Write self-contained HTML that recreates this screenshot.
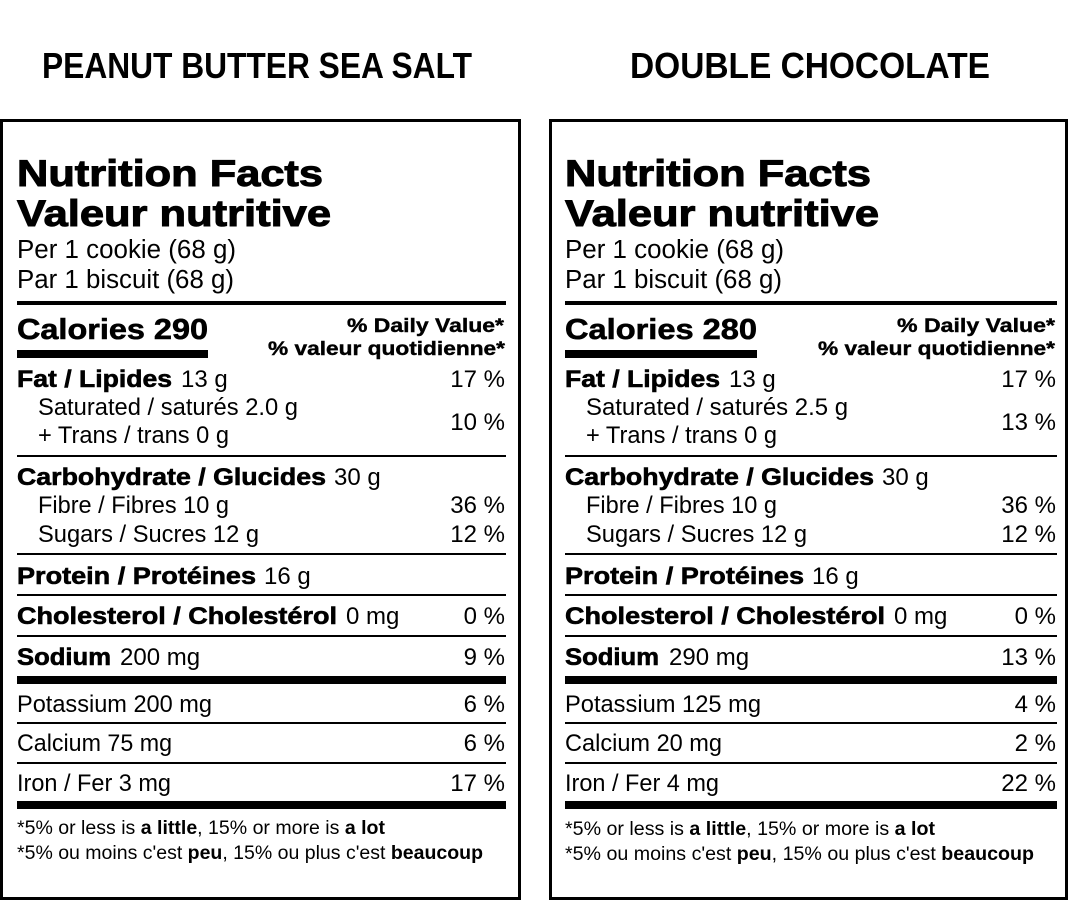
<!DOCTYPE html>
<html><head><meta charset="utf-8"><style>
html,body{margin:0;padding:0;background:#fff;}
svg{display:block;}
text{font-family:"Liberation Sans",Arial,sans-serif;fill:#000;}
.t{font-weight:bold;font-size:36px;}
.h{font-weight:bold;font-size:37px;stroke:#000;stroke-width:1px;}
.b{font-weight:bold;font-size:24px;stroke:#000;stroke-width:0.6px;}
.r{font-size:24px;}
.r25{font-size:25.5px;}
.p{font-size:24px;text-anchor:end;}
.dv{font-weight:bold;font-size:19px;stroke:#000;stroke-width:0.4px;}
.f{font-size:19px;}
.f tspan.bb{font-weight:bold;}
</style></head><body>
<svg width="1070" height="900" viewBox="0 0 1070 900" xmlns="http://www.w3.org/2000/svg">
<rect x="0" y="0" width="1070" height="900" fill="#fff"/>
<text class="t" x="42" y="78" textLength="430" lengthAdjust="spacingAndGlyphs">PEANUT BUTTER SEA SALT</text>
<text class="t" x="630" y="78" textLength="360" lengthAdjust="spacingAndGlyphs">DOUBLE CHOCOLATE</text>

<rect x="1.5" y="120.5" width="518" height="778" fill="none" stroke="#000" stroke-width="3"/>
<rect x="550.5" y="120.5" width="516" height="778" fill="none" stroke="#000" stroke-width="3"/>

<!-- LEFT PANEL -->
<g>
<text class="h" x="17" y="186" textLength="306" lengthAdjust="spacingAndGlyphs">Nutrition Facts</text>
<text class="h" x="17" y="226" textLength="314" lengthAdjust="spacingAndGlyphs">Valeur nutritive</text>
<text class="r25" x="17" y="258" textLength="219" lengthAdjust="spacingAndGlyphs">Per 1 cookie (68 g)</text>
<text class="r25" x="17" y="288" textLength="217" lengthAdjust="spacingAndGlyphs">Par 1 biscuit (68 g)</text>
<rect x="17" y="301" width="489" height="4"/>
<text class="b" style="font-size:29px" x="17" y="339" textLength="191" lengthAdjust="spacingAndGlyphs">Calories 290</text>
<rect x="17" y="350" width="191" height="8"/>
<text class="dv" x="347" y="332" textLength="157" lengthAdjust="spacingAndGlyphs">% Daily Value*</text>
<text class="dv" x="268" y="355" textLength="237" lengthAdjust="spacingAndGlyphs">% valeur quotidienne*</text>

<text class="b" x="17" y="387" textLength="155" lengthAdjust="spacingAndGlyphs">Fat / Lipides</text>
<text class="r" x="181" y="387">13 g</text>
<text class="p" x="505" y="387">17 %</text>
<text class="r" x="38" y="415" textLength="260" lengthAdjust="spacingAndGlyphs">Saturated / saturés 2.0 g</text>
<text class="r" x="38" y="443" textLength="191" lengthAdjust="spacingAndGlyphs">+ Trans / trans 0 g</text>
<text class="p" x="505" y="430">10 %</text>
<rect x="17" y="455" width="489" height="2"/>

<text class="b" x="17" y="485" textLength="309" lengthAdjust="spacingAndGlyphs">Carbohydrate / Glucides</text>
<text class="r" x="334" y="485">30 g</text>
<text class="r" x="38" y="513" textLength="191" lengthAdjust="spacingAndGlyphs">Fibre / Fibres 10 g</text>
<text class="p" x="505" y="513">36 %</text>
<text class="r" x="38" y="542" textLength="221" lengthAdjust="spacingAndGlyphs">Sugars / Sucres 12 g</text>
<text class="p" x="505" y="542">12 %</text>
<rect x="17" y="553" width="489" height="2"/>

<text class="b" x="17" y="584" textLength="239" lengthAdjust="spacingAndGlyphs">Protein / Protéines</text>
<text class="r" x="264" y="584">16 g</text>
<rect x="17" y="594" width="489" height="2"/>

<text class="b" x="17" y="624" textLength="320" lengthAdjust="spacingAndGlyphs">Cholesterol / Cholestérol</text>
<text class="r" x="346" y="624">0 mg</text>
<text class="p" x="505" y="624">0 %</text>
<rect x="17" y="635" width="489" height="2"/>

<text class="b" x="17" y="665" textLength="94" lengthAdjust="spacingAndGlyphs">Sodium</text>
<text class="r" x="120" y="665">200 mg</text>
<text class="p" x="505" y="665">9 %</text>
<rect x="17" y="676" width="489" height="8"/>

<text class="r" x="17" y="712" textLength="195" lengthAdjust="spacingAndGlyphs">Potassium 200 mg</text>
<text class="p" x="505" y="712">6 %</text>
<rect x="17" y="722" width="489" height="2"/>
<text class="r" x="17" y="751" textLength="155" lengthAdjust="spacingAndGlyphs">Calcium 75 mg</text>
<text class="p" x="505" y="751">6 %</text>
<rect x="17" y="762" width="489" height="2"/>
<text class="r" x="17" y="791" textLength="154" lengthAdjust="spacingAndGlyphs">Iron / Fer 3 mg</text>
<text class="p" x="505" y="791">17 %</text>
<rect x="17" y="801" width="489" height="8"/>

<text class="f" x="17" y="834" textLength="368" lengthAdjust="spacingAndGlyphs">*5% or less is <tspan class="bb">a little</tspan>, 15% or more is <tspan class="bb">a lot</tspan></text>
<text class="f" x="17" y="859" textLength="466" lengthAdjust="spacingAndGlyphs">*5% ou moins c'est <tspan class="bb">peu</tspan>, 15% ou plus c'est <tspan class="bb">beaucoup</tspan></text>
</g>

<!-- RIGHT PANEL -->
<g>
<text class="h" x="565" y="186" textLength="306" lengthAdjust="spacingAndGlyphs">Nutrition Facts</text>
<text class="h" x="565" y="226" textLength="314" lengthAdjust="spacingAndGlyphs">Valeur nutritive</text>
<text class="r25" x="565" y="258" textLength="219" lengthAdjust="spacingAndGlyphs">Per 1 cookie (68 g)</text>
<text class="r25" x="565" y="288" textLength="217" lengthAdjust="spacingAndGlyphs">Par 1 biscuit (68 g)</text>
<rect x="565" y="301" width="492" height="4"/>
<text class="b" style="font-size:29px" x="565" y="339" textLength="192" lengthAdjust="spacingAndGlyphs">Calories 280</text>
<rect x="565" y="350" width="192" height="8"/>
<text class="dv" x="897" y="332" textLength="158" lengthAdjust="spacingAndGlyphs">% Daily Value*</text>
<text class="dv" x="818" y="355" textLength="237" lengthAdjust="spacingAndGlyphs">% valeur quotidienne*</text>

<text class="b" x="565" y="387" textLength="155" lengthAdjust="spacingAndGlyphs">Fat / Lipides</text>
<text class="r" x="729" y="387">13 g</text>
<text class="p" x="1056" y="387">17 %</text>
<text class="r" x="586" y="415" textLength="262" lengthAdjust="spacingAndGlyphs">Saturated / saturés 2.5 g</text>
<text class="r" x="586" y="443" textLength="191" lengthAdjust="spacingAndGlyphs">+ Trans / trans 0 g</text>
<text class="p" x="1056" y="430">13 %</text>
<rect x="565" y="455" width="492" height="2"/>

<text class="b" x="565" y="485" textLength="309" lengthAdjust="spacingAndGlyphs">Carbohydrate / Glucides</text>
<text class="r" x="882" y="485">30 g</text>
<text class="r" x="586" y="513" textLength="191" lengthAdjust="spacingAndGlyphs">Fibre / Fibres 10 g</text>
<text class="p" x="1056" y="513">36 %</text>
<text class="r" x="586" y="542" textLength="221" lengthAdjust="spacingAndGlyphs">Sugars / Sucres 12 g</text>
<text class="p" x="1056" y="542">12 %</text>
<rect x="565" y="553" width="492" height="2"/>

<text class="b" x="565" y="584" textLength="239" lengthAdjust="spacingAndGlyphs">Protein / Protéines</text>
<text class="r" x="812" y="584">16 g</text>
<rect x="565" y="594" width="492" height="2"/>

<text class="b" x="565" y="624" textLength="320" lengthAdjust="spacingAndGlyphs">Cholesterol / Cholestérol</text>
<text class="r" x="894" y="624">0 mg</text>
<text class="p" x="1056" y="624">0 %</text>
<rect x="565" y="635" width="492" height="2"/>

<text class="b" x="565" y="665" textLength="94" lengthAdjust="spacingAndGlyphs">Sodium</text>
<text class="r" x="669" y="665">290 mg</text>
<text class="p" x="1056" y="665">13 %</text>
<rect x="565" y="676" width="492" height="8"/>

<text class="r" x="565" y="712" textLength="196" lengthAdjust="spacingAndGlyphs">Potassium 125 mg</text>
<text class="p" x="1056" y="712">4 %</text>
<rect x="565" y="722" width="492" height="2"/>
<text class="r" x="565" y="751" textLength="157" lengthAdjust="spacingAndGlyphs">Calcium 20 mg</text>
<text class="p" x="1056" y="751">2 %</text>
<rect x="565" y="762" width="492" height="2"/>
<text class="r" x="565" y="791" textLength="154" lengthAdjust="spacingAndGlyphs">Iron / Fer 4 mg</text>
<text class="p" x="1056" y="791">22 %</text>
<rect x="565" y="801" width="492" height="8"/>

<text class="f" x="565" y="835" textLength="370" lengthAdjust="spacingAndGlyphs">*5% or less is <tspan class="bb">a little</tspan>, 15% or more is <tspan class="bb">a lot</tspan></text>
<text class="f" x="565" y="860" textLength="469" lengthAdjust="spacingAndGlyphs">*5% ou moins c'est <tspan class="bb">peu</tspan>, 15% ou plus c'est <tspan class="bb">beaucoup</tspan></text>
</g>
</svg>
</body></html>
